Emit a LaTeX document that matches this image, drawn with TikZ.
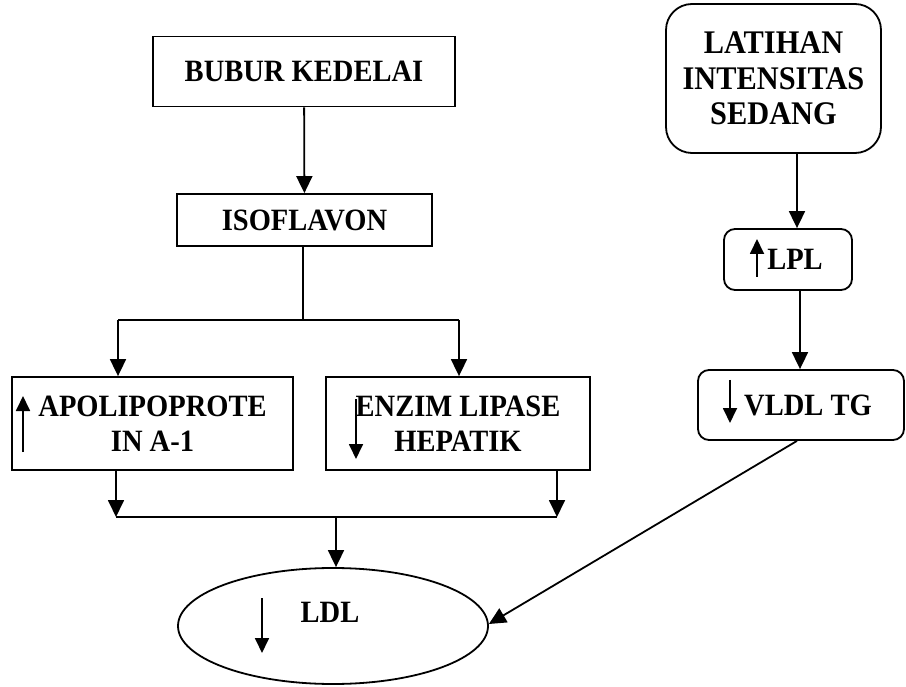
\documentclass[tikz,border=0pt]{standalone}
\usepackage{fontspec}
\setmainfont{Liberation Serif}[FakeStretch=0.92]
\usetikzlibrary{arrows.meta,shapes.geometric}
\begin{document}
\begin{tikzpicture}[x=1pt,y=-1pt,
  every node/.style={font=\fontsize{31}{35}\selectfont\bfseries, inner sep=0pt},
  box/.style={draw, line width=1.8pt, align=center},
  rbox/.style={box, rounded corners=#1},
  arr/.style={line width=1.8pt, -{Triangle[length=17pt,width=16pt]}},
  ln/.style={line width=1.8pt},
  mark arrow/.style={line width=1.8pt, -{Triangle[length=15pt,width=14pt]}}]
\useasboundingbox (0,0) rectangle (906,687);
% left column
\node[box, minimum width=302pt, minimum height=70pt] (bubur) at (304,71.5) {BUBUR KEDELAI};
\node[box, minimum width=255pt, minimum height=52pt] (iso) at (304.5,220) {ISOFLAVON};
\node[box, minimum width=281pt, minimum height=93pt] (apo) at (152.5,423.5) {APOLIPOPROTE\\IN A-1};
\node[box, minimum width=264pt, minimum height=93pt] (enz) at (458,423.5) {ENZIM LIPASE\\HEPATIK};
\node[draw, ellipse, line width=1.8pt, minimum width=310pt, minimum height=116pt] (ldl) at (333,626) {};
\node (ldltext) at (330,612) {LDL};
% right column
\node[rbox=26pt, minimum width=215pt, minimum height=149pt, font=\fontsize{33}{35.5}\selectfont\bfseries] (lat) at (773.5,78.5) {LATIHAN\\INTENSITAS\\SEDANG};
\node[rbox=11pt, minimum width=128pt, minimum height=61pt] (lpl) at (788,259.5) {\hspace*{14pt}LPL};
\node[rbox=11pt, minimum width=206pt, minimum height=70pt] (vldl) at (801,405) {\hspace*{14pt}VLDL TG};
% coordinates for branching
\coordinate (split) at (303,320);
\coordinate (splitL) at (118,320);
\coordinate (splitR) at (459,320);
\coordinate (joinL) at (116,517);
\coordinate (joinR) at (557,517);
\coordinate (joinM) at (336,517);
% connectors
\draw[arr] (bubur) -- (iso);
\draw[ln] (iso.south -| split) -- (split);
\draw[ln] (splitL) -- (splitR);
\draw[arr] (splitL) -- (splitL |- apo.north);
\draw[arr] (splitR) -- (splitR |- enz.north);
\draw[arr] (joinL |- apo.south) -- (joinL);
\draw[arr] (joinR |- enz.south) -- (joinR);
\draw[ln] (joinL) -- (joinR);
\draw[arr] (joinM) -- (joinM |- ldl.north);
\draw[arr] ([xshift=23.5pt]lat.south) -- ([xshift=23.5pt]lat.south |- lpl.north);
\draw[arr] ([xshift=12pt]lpl.south) -- ([xshift=12pt]lpl.south |- vldl.north);
\draw[arr] ([xshift=-4pt]vldl.south) -- ([yshift=2pt]ldl.east);
% up/down marks inside the shapes
\draw[mark arrow] (23,452) -- (23,396);
\draw[mark arrow] (356,399) -- (356,459);
\draw[mark arrow] (262,598) -- (262,653);
\draw[mark arrow] (757,277) -- (757,239);
\draw[mark arrow] (730,380) -- (730,423);
\end{tikzpicture}
\end{document}
